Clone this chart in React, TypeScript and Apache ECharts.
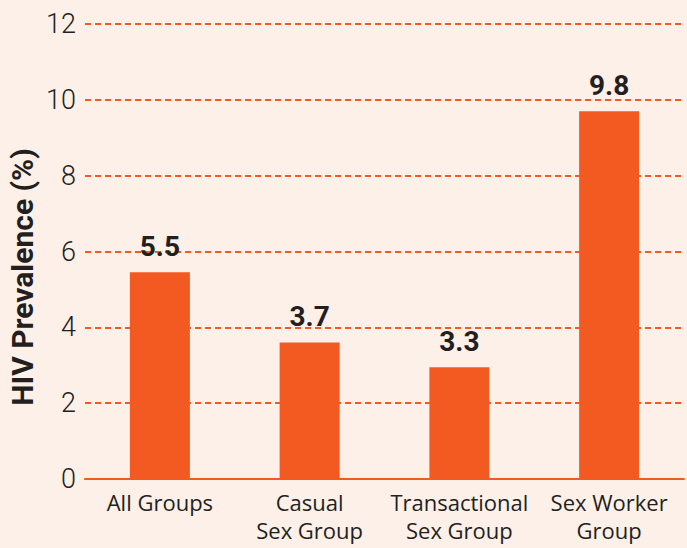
import React, { useEffect, useRef } from "react";
import * as echarts from "echarts";

const categories = ["All Groups", "Casual\nSex Group", "Transactional\nSex Group", "Sex Worker\nGroup"];
const barHeights = [5.45, 3.6, 2.95, 9.7];
const labelTexts = ["5.5", "3.7", "3.3", "9.8"];
const yTicks = { min: 0, max: 12, interval: 2 };
const yTitle = "HIV Prevalence (%)";

const ORANGE = "#F25A22";
const DARK = "#231F20";
const BG = "#FCF0E8";

export default function App() {
  const ref = useRef<HTMLDivElement>(null);
  useEffect(() => {
    if (!ref.current) return;
    const chart = echarts.init(ref.current, null, { renderer: "svg" });
    chart.setOption({
      animation: false,
      backgroundColor: BG,
      grid: { left: 85, right: 3, top: 24, bottom: 69, containLabel: false },
      graphic: [
        {
          type: "text",
          x: 22,
          y: 277,
          rotation: Math.PI / 2,
          style: {
            text: yTitle,
            fill: DARK,
            fontFamily: "Roboto",
            fontWeight: "bold",
            fontSize: 30,
            align: "center",
            verticalAlign: "middle",
          },
        },
      ],
      xAxis: {
        type: "category",
        data: categories,
        axisLine: { show: true, lineStyle: { color: ORANGE, width: 2 } },
        axisTick: { show: false },
        axisLabel: {
          color: DARK,
          fontFamily: "Open Sans",
          fontSize: 22,
          lineHeight: 28,
          margin: 9,
          interval: 0,
        },
      },
      yAxis: {
        type: "value",
        min: yTicks.min,
        max: yTicks.max,
        interval: yTicks.interval,
        axisLine: { show: false },
        axisTick: { show: false },
        axisLabel: { color: DARK, fontFamily: "Roboto", fontWeight: 300, fontSize: 27, margin: 9 },
        splitLine: { show: true, lineStyle: { color: ORANGE, width: 2, type: [6, 4] } },
      },
      series: [
        {
          type: "bar",
          data: barHeights.map((v, i) => ({ value: v, label: { formatter: labelTexts[i] } })),
          barWidth: 60,
          itemStyle: { color: ORANGE },
          label: {
            show: true,
            position: "top",
            distance: 12,
            color: DARK,
            fontFamily: "Roboto",
            fontWeight: "bold",
            fontSize: 28,
          },
        },
      ],
    });
    return () => chart.dispose();
  }, []);
  return <div ref={ref} style={{ position: "absolute", left: 0, top: 0, width: 687, height: 548 }} />;
}
